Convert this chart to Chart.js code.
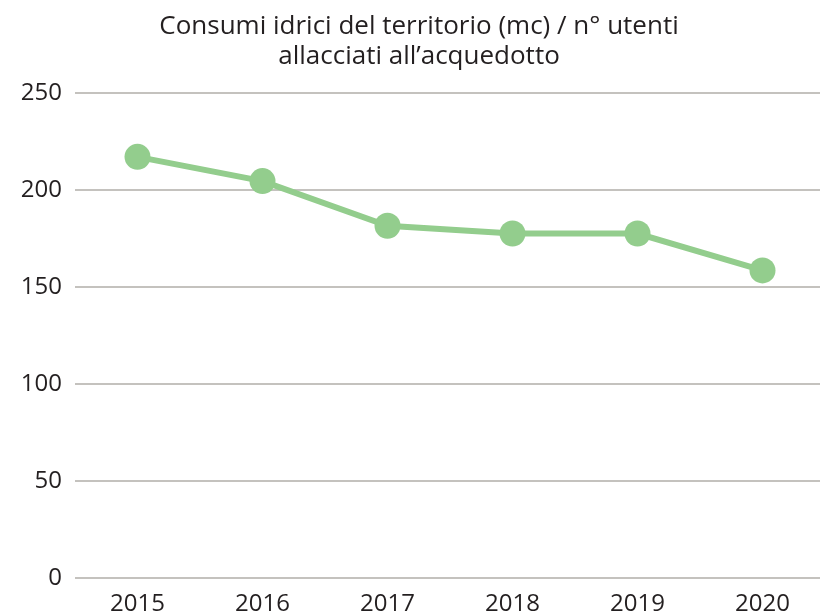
<!DOCTYPE html>
<html>
<head>
<meta charset="utf-8">
<script src="https://cdn.jsdelivr.net/npm/chart.js@4/dist/chart.umd.min.js"></script>
<style>
  html, body { margin: 0; padding: 0; background: #fff; overflow: hidden; }
  #wrap { width: 838px; height: 615px; }
</style>
</head>
<body>
<div id="wrap"><canvas id="chart" width="838" height="615"></canvas></div>
<script>
const years = ['2015', '2016', '2017', '2018', '2019', '2020'];
const consumoPerUtente = [217, 204.5, 181.5, 177.5, 177.5, 158.5];
const yTicks = [0, 50, 100, 150, 200, 250];

const green = '#93cd8d';
const textColour = '#231f20';
const fontFamily = '"Open Sans", sans-serif';

new Chart(document.getElementById('chart'), {
    type: 'line',
    data: {
        labels: years,
        datasets: [{
            data: consumoPerUtente,
            borderColor: green,
            backgroundColor: green,
            borderWidth: 6,
            pointRadius: 13,
            pointHoverRadius: 13,
            pointBorderWidth: 0,
            tension: 0
        }]
    },
    options: {
        responsive: false,
        animation: false,
        plugins: {
            legend: { display: false },
            tooltip: { enabled: false },
            title: {
                display: true,
                text: ['Consumi idrici del territorio (mc) / n° utenti', 'allacciati all\u2019acquedotto'],
                color: textColour,
                font: { family: fontFamily, size: 26, weight: 'normal', lineHeight: 1.15 },
                padding: { top: 12, bottom: 21 }
            }
        },
        scales: {
            x: {
                offset: true,
                grid: { display: false, drawTicks: false },
                border: { display: false },
                ticks: {
                    color: textColour,
                    font: { family: fontFamily, size: 24 },
                    padding: 12,
                    maxRotation: 0
                },
                afterFit(scale) { scale.height = 37; }
            },
            y: {
                min: 0,
                max: 250,
                afterBuildTicks(scale) {
                    scale.ticks = yTicks.map(v => ({ value: v }));
                },
                grid: { color: '#c4c2be', lineWidth: 2, drawTicks: false },
                border: { display: false },
                ticks: {
                    color: textColour,
                    font: { family: fontFamily, size: 24 },
                    padding: 13
                },
                afterFit(scale) { scale.width = 75; }
            }
        }
    }
});
</script>
</body>
</html>
